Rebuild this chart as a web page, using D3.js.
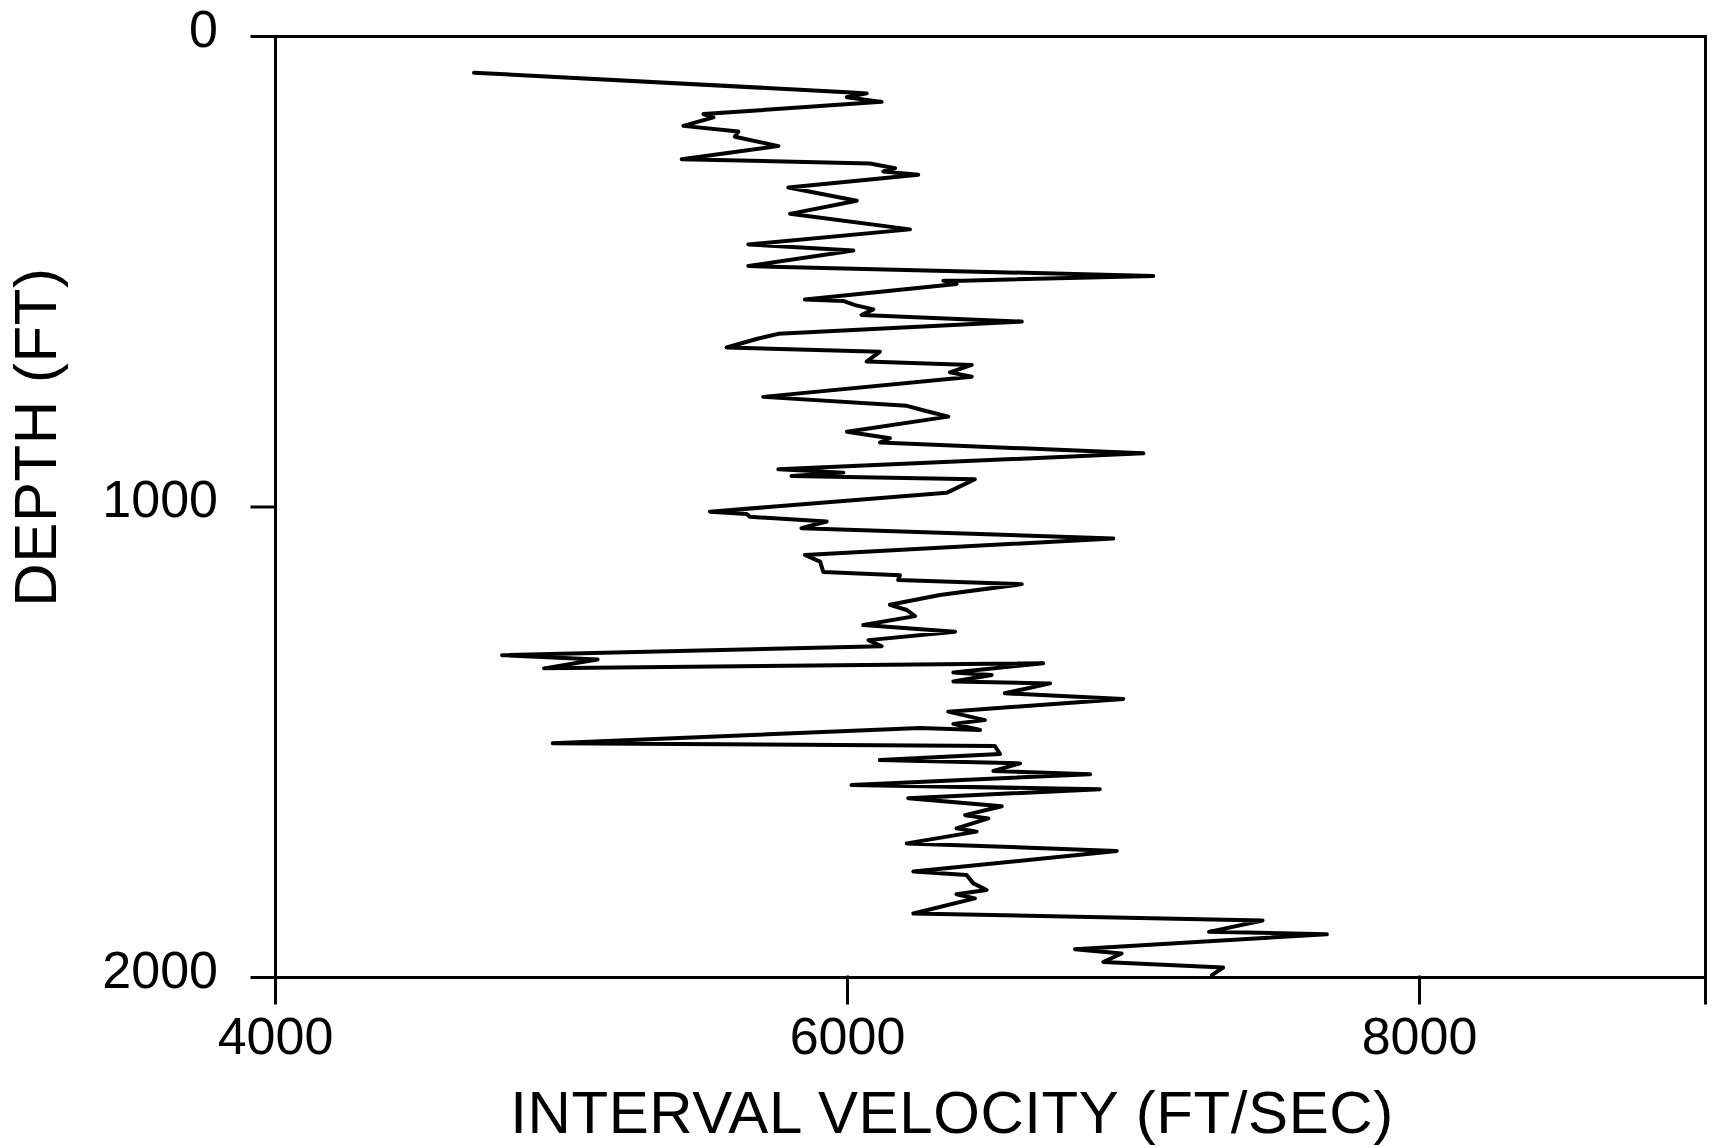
<!DOCTYPE html>
<html>
<head>
<meta charset="utf-8">
<script src="https://cdn.jsdelivr.net/npm/d3@7"></script>
<style>
  html, body { margin: 0; padding: 0; background: #fff; }
  svg { display: block; font-family: "Liberation Sans", Arial, Helvetica, sans-serif; }
</style>
</head>
<body>
<svg id="chart" width="1712" height="1147"></svg>
<script>
// depth (ft) of each vertex of the log, top to bottom
const depth = [
  78, 120, 122, 130, 140, 166, 173, 191, 203, 214, 234, 262, 271, 281, 288, 295,
  322, 350, 378, 411, 443, 456, 489, 510, 520, 520, 527, 560, 563, 572, 581, 593,
  607, 633, 643, 662, 671, 692, 699, 715, 724, 767, 786, 797, 809, 841, 855, 864,
  887, 921, 928, 935, 942, 971, 1011, 1016, 1022, 1032, 1046, 1068, 1103, 1117,
  1139, 1146, 1156, 1165, 1188, 1209, 1220, 1233, 1252, 1266, 1284, 1297, 1316,
  1325, 1344, 1333, 1353, 1358, 1372, 1376, 1397, 1409, 1436, 1454, 1462, 1475,
  1471, 1503, 1509, 1526, 1539, 1546, 1562, 1569, 1592, 1601, 1620, 1637, 1656,
  1663, 1684, 1691, 1716, 1732, 1776, 1783, 1801, 1815, 1824, 1833, 1865, 1880,
  1904, 1909, 1941, 1950, 1968, 1980, 1996
];

// interval velocity (ft/sec) at each of those depths
const velocity = [
  4696, 6016, 6069, 5999, 6121, 5498, 5533, 5428, 5620, 5608, 5760, 5422, 6080, 6168, 6127, 6249,
  5795, 6034, 5801, 6220, 5655, 6022, 5655, 7071, 6407, 6337, 6383, 5853, 5987, 6028, 6092, 6051,
  6611, 5760, 5690, 5579, 6115, 6069, 6436, 6360, 6436, 5707, 6209, 6276, 6354, 6000, 6150, 6115,
  7036, 5760, 5987, 5806, 6447, 6348, 5521, 5649, 5661, 5929, 5841, 6931, 5853, 5906,
  5917, 6185, 6179, 6611, 6325, 6150, 6209, 6238, 6057, 6378, 6075, 6121, 4794,
  5128, 4941, 6686, 6372, 6506, 6372, 6710, 6552, 6966, 6354, 6482, 6372, 6465,
  6255, 4971, 6517, 6535, 6115, 6605, 6512, 6850, 6016, 6884, 6214, 6541, 6413,
  6494, 6383, 6453, 6209, 6943, 6232, 6418, 6442, 6488, 6383, 6447, 6232, 7453,
  7266, 7678, 6797, 6960, 6896, 7315, 7276
];

const xTicks = [4000, 6000, 8000, 9000];
const yTicks = [0, 1000, 2000];
const xTitle = "INTERVAL VELOCITY (FT/SEC)";
const yTitle = "DEPTH (FT)";

const svg = d3.select("#chart");

const xScale = d3.scaleLinear().domain([4000, 9000]).range([275, 1705]);
const yScale = d3.scaleLinear().domain([0, 2000]).range([36, 977]);

const logData = depth.map((d, i) => ({ depth: d, velocity: velocity[i] }));

// axes
const xAxis = d3
  .axisBottom(xScale)
  .tickValues(xTicks)
  .tickFormat((d) => (d === 9000 ? "" : d))
  .tickSizeInner(26)
  .tickSizeOuter(0)
  .tickPadding(14);

const yAxis = d3
  .axisLeft(yScale)
  .tickValues(yTicks)
  .tickFormat((d) => d)
  .tickSizeInner(23)
  .tickSizeOuter(0)
  .tickPadding(34);

const xAxisG = svg
  .append("g")
  .attr("class", "xAxisG")
  .attr("transform", `translate(0 ${yScale(2000)})`)
  .call(xAxis);

const yAxisG = svg
  .append("g")
  .attr("class", "yAxisG")
  .attr("transform", `translate(${xScale(4000)} 0)`)
  .call(yAxis);

// top and right frame lines
svg
  .append("g")
  .attr("transform", `translate(0 ${yScale(0)})`)
  .call(d3.axisTop(xScale).tickValues([]).tickSizeOuter(0));

svg
  .append("g")
  .attr("transform", `translate(${xScale(9000)} 0)`)
  .call(d3.axisRight(yScale).tickValues([]).tickSizeOuter(0));

svg.selectAll(".domain, .tick line")
  .style("stroke", "#000")
  .style("stroke-width", "3px")
  .style("stroke-linecap", "square");

xAxisG.selectAll("text")
  .style("font-size", "52px")
  .style("fill", "#000")
  .style("font-family", "'Liberation Sans', Arial, sans-serif");

yAxisG.selectAll("text")
  .attr("dy", "0.2em")
  .style("font-size", "52px")
  .style("fill", "#000")
  .style("font-family", "'Liberation Sans', Arial, sans-serif");

// the velocity log itself
const line = d3
  .line()
  .x((d) => xScale(d.velocity))
  .y((d) => yScale(d.depth));

svg
  .append("path")
  .datum(logData)
  .attr("d", line)
  .attr("fill", "none")
  .attr("stroke", "#000")
  .attr("stroke-width", 4)
  .attr("stroke-linejoin", "round")
  .attr("stroke-linecap", "round");

// axis titles
svg
  .append("text")
  .attr("x", 952)
  .attr("y", 1133)
  .attr("text-anchor", "middle")
  .style("font-size", "60px")
  .style("letter-spacing", "0.6px")
  .style("fill", "#000")
  .text(xTitle);

svg
  .append("text")
  .attr("transform", "translate(56 437) rotate(-90)")
  .attr("text-anchor", "middle")
  .style("font-size", "60px")
  .style("letter-spacing", "0.6px")
  .style("fill", "#000")
  .text(yTitle);
</script>
</body>
</html>
